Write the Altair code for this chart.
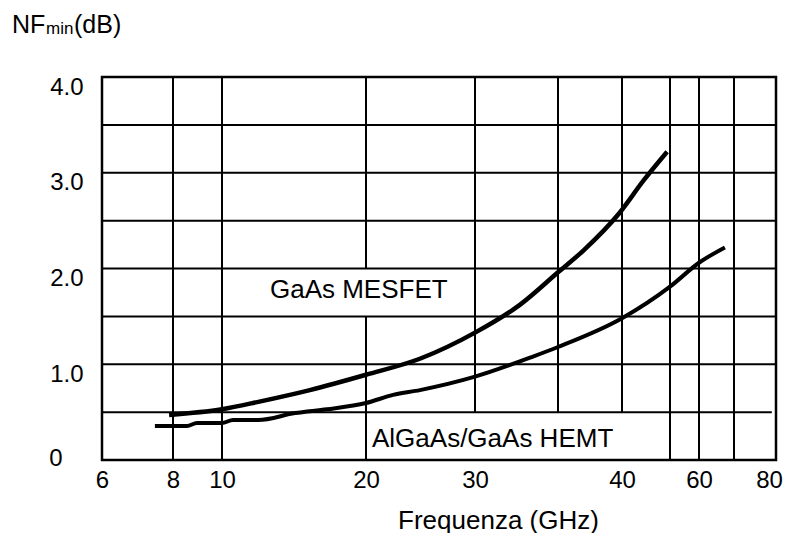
import altair as alt
import pandas as pd

# ---- data ----
# x axis is a hand-drawn, non-uniform scale: tick values and their grid positions
x_breaks = [6, 8, 10, 20, 30, 35, 40, 50, 60, 70, 80]
x_break_px = [0, 71, 120, 264, 373, 456, 520, 568, 597, 632, 674]
x_tick_labels = [6, 8, 10, 20, 30, 40, 60, 80]
y_tick_labels = [0, 1, 2, 3, 4]

mesfet_f = [7.89, 10, 12.6, 16.1, 20, 25, 30, 32.7, 35, 37, 39.8, 44.5, 49.4]
mesfet_nf = [0.47, 0.53, 0.61, 0.73, 0.89, 1.06, 1.33, 1.62, 1.96, 2.19, 2.58, 2.92, 3.22]

hemt_f = [7.49, 8.57, 8.98, 10, 10.76, 12.5, 15.07, 17.29, 20, 22.48, 24.95,
          30, 33.49, 35, 40, 50, 60, 67.4]
hemt_nf = [0.355, 0.355, 0.386, 0.386, 0.418, 0.418, 0.49, 0.53, 0.595, 0.68, 0.73,
           0.87, 1.08, 1.18, 1.48, 1.81, 2.06, 2.22]

# grid lines
h_grid_y = [0.5, 1.0, 1.5, 2.0, 2.5, 3.0, 3.5]
h_grid_x1 = [6, 6, 6, 6, 6, 6, 6]
h_grid_x2 = [79, 80, 80, 80, 80, 80, 80]
v_grid_x = [8, 10, 20, 20, 30, 35, 40, 50, 60, 70]
v_grid_y1 = [0, 0, 0, 2.0, 0.5, 0.5, 0.5, 0, 0, 0]
v_grid_y2 = [4, 4, 1.5, 4, 4, 4, 4, 4, 4, 4]

labels_text = ["GaAs MESFET", "AlGaAs/GaAs HEMT"]
labels_f = [13.33, 20.55]
labels_nf = [1.69, 0.136]

FONT = "Liberation Sans"
W, H = 674, 383

xscale = alt.Scale(type="linear", domain=x_breaks, range=x_break_px, nice=False, zero=False)
yscale = alt.Scale(domain=[0, 4], nice=False, zero=False)

xaxis = alt.Axis(values=x_tick_labels, grid=False, domain=False, ticks=False, tickSize=0,
                 labelFont=FONT, labelFontSize=24, labelColor="black", labelPadding=8,
                 labelOffset={"condition": {"test": "datum.value == 80", "value": -7}, "value": 0},
                 labelFlush=False, labelOverlap=False,
                 title="Frequenza (GHz)", titleFont=FONT, titleFontSize=26,
                 titleFontWeight="normal", titleColor="black", titleX=396, titleY=68,
                 titleAlign="center", titleBaseline="alphabetic")
yaxis = alt.Axis(values=y_tick_labels, grid=False, domain=False, ticks=False, tickSize=0,
                 labelFont=FONT, labelFontSize=24, labelColor="black",
                 labelPadding={"condition": {"test": "datum.value == 0", "value": 40}, "value": 19},
                 labelExpr="datum.value == 0 ? '0' : format(datum.value, '.1f')",
                 labelOffset={"condition": {"test": "datum.value == 0", "value": -2}, "value": 10},
                 labelFlush=False, labelOverlap=False, title=None)

hg = pd.DataFrame({"y": h_grid_y, "x1": h_grid_x1, "x2": h_grid_x2})
vg = pd.DataFrame({"x": v_grid_x, "y1": v_grid_y1, "y2": v_grid_y2})

h_rules = alt.Chart(hg).mark_rule(color="black", strokeWidth=2).encode(
    x=alt.X("x1:Q", scale=xscale, axis=xaxis),
    x2="x2:Q",
    y=alt.Y("y:Q", scale=yscale, axis=yaxis),
)
v_rules = alt.Chart(vg).mark_rule(color="black", strokeWidth=2).encode(
    x=alt.X("x:Q", scale=xscale),
    y=alt.Y("y1:Q", scale=yscale),
    y2="y2:Q",
)

mes = pd.DataFrame({"f": mesfet_f, "nf": mesfet_nf})
hem = pd.DataFrame({"f": hemt_f, "nf": hemt_nf})

mes_line = alt.Chart(mes).mark_line(color="black", strokeWidth=4.5, interpolate="monotone").encode(
    x=alt.X("f:Q", scale=xscale), y=alt.Y("nf:Q", scale=yscale))
hem_line = alt.Chart(hem).mark_line(color="black", strokeWidth=4, interpolate="monotone").encode(
    x=alt.X("f:Q", scale=xscale), y=alt.Y("nf:Q", scale=yscale))

lab = pd.DataFrame({"t": labels_text, "f": labels_f, "nf": labels_nf})
lab_text = alt.Chart(lab).mark_text(font=FONT, fontSize=26, align="left",
                                    baseline="alphabetic", color="black").encode(
    x=alt.X("f:Q", scale=xscale), y=alt.Y("nf:Q", scale=yscale), text="t:N")

one = alt.Data(values=[{}])
t_nf = alt.Chart(one).mark_text(text="NF", font=FONT, fontSize=25, align="left",
                                baseline="alphabetic", color="black").encode(
    x=alt.value(-90), y=alt.value(-44))
t_min = alt.Chart(one).mark_text(text="min", font=FONT, fontSize=17, align="left",
                                 baseline="alphabetic", color="black").encode(
    x=alt.value(-56), y=alt.value(-43))
t_db = alt.Chart(one).mark_text(text="(dB)", font=FONT, fontSize=25, align="left",
                                baseline="alphabetic", color="black").encode(
    x=alt.value(-28), y=alt.value(-44))

chart = alt.layer(h_rules, v_rules, mes_line, hem_line, lab_text, t_nf, t_min, t_db).properties(
    width=W, height=H,
    autosize=alt.AutoSizeParams(type="none"),
    padding={"left": 94, "top": 69, "right": 7, "bottom": 73},
    background="white",
).configure_view(stroke="black", strokeWidth=2.5)

chart.save("out.html", embed_options={"renderer": "svg", "actions": False})
